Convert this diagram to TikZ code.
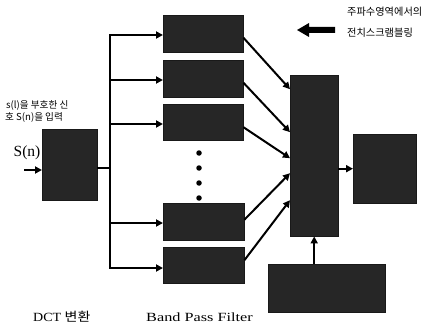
\documentclass[tikz,border=0pt]{standalone}
\usepackage{fontspec}
\setmainfont{Liberation Serif}
\newfontfamily\kr{Noto Sans CJK KR}
\usetikzlibrary{arrows.meta,calc}
\tikzset{
  blk/.style={draw=black!90,fill=black!85,inner sep=0pt,anchor=north west},
  conn/.style={line width=2pt,-{Triangle[length=7pt,width=7pt]}},
  plain/.style={line width=2pt},
  dotc/.style={circle,fill=black,inner sep=0pt,minimum size=5.5pt},
  krtxt/.style={font=\kr\fontsize{9.6}{11}\selectfont,inner sep=0pt},
}
\begin{document}
\begin{tikzpicture}[x=1pt,y=-1pt]
\useasboundingbox (0,0) rectangle (436,326);
% DCT box
\node[blk,minimum width=55pt,minimum height=71pt] (dct) at (42,129) {};
% band pass filters
\node[blk,minimum width=80pt,minimum height=37pt] (b1) at (163,15) {};
\node[blk,minimum width=80pt,minimum height=37pt] (b2) at (163,60) {};
\node[blk,minimum width=80pt,minimum height=36pt] (b3) at (163,104) {};
\node[blk,minimum width=81pt,minimum height=37pt] (b4) at (163,203) {};
\node[blk,minimum width=81pt,minimum height=36pt] (b5) at (163,247) {};
% combiner, output, bottom box
\node[blk,minimum width=48pt,minimum height=161pt] (comb) at (290,75) {};
\node[blk,minimum width=63pt,minimum height=69pt] (out) at (353,134) {};
\node[blk,minimum width=117pt,minimum height=48pt] (bot) at (268,264) {};
% dots
\node[dotc] (d1) at (199,153) {};
\node[dotc] (d2) at (199,168) {};
\node[dotc] (d3) at (199,183) {};
\node[dotc] (d4) at (199,198) {};
% input
\coordinate (in) at (24,170);
\draw[conn] (in) -- (in -| dct.west);
\node[font=\fontsize{15.5}{15}\selectfont,inner sep=0pt] (sn) at (27,153) {S(n)};
\node[krtxt,anchor=west] (t1) at (6,105) {s(l)을 부호한 신};
\node[krtxt,anchor=west] (t2) at (5,117) {호 S(n)을 입력};
% bus
\coordinate (bt) at (110,35);
\coordinate (bb) at (110,268);
\coordinate (bm) at (110,168);
\draw[plain] (dct.east |- bm) -- (bm);
\draw[plain,line cap=rect] (bt) -- (bb);
\draw[conn] (bt) -- (bt -| b1.west);
\draw[conn] (110,80) coordinate (j2) -- (j2 -| b2.west);
\draw[conn] (110,124) coordinate (j3) -- (j3 -| b3.west);
\draw[conn] (110,223) coordinate (j4) -- (j4 -| b4.west);
\draw[conn] (bb) -- (bb -| b5.west);
% filters to combiner
\draw[conn] ([yshift=-4pt]b1.east) -- ([yshift=66.5pt]comb.west);
\draw[conn] ([yshift=-4pt]b2.east) -- ([yshift=23.5pt]comb.west);
\draw[conn] ([yshift=-5pt]b3.east) -- ([yshift=-2.5pt]comb.west);
\draw[conn] ([yshift=2pt]b4.east) -- ([yshift=-17.5pt]comb.west);
\draw[conn] ([yshift=5pt]b5.east) -- ([yshift=-44.5pt]comb.west);
% combiner to output, bottom to combiner
\draw[conn] (comb.east |- out.west) -- (out.west);
\draw[conn] (bot.north -| comb.south) -- (comb.south);
% top-right legend arrow
\fill[black] (297,30) -- (309,23) -- (309,27) -- (335,27) -- (335,33) -- (309,33) -- (309,37) -- cycle;
\node[krtxt,font=\kr\fontsize{10.2}{11}\selectfont,anchor=west] (l1) at (347,12) {주파수영역에서의};
\node[krtxt,font=\kr\fontsize{10.2}{11}\selectfont,anchor=west] (l2) at (347,33) {전치스크램블링};
% bottom labels
\node[inner sep=0pt,anchor=west,font=\fontsize{12.5}{13}\selectfont] (lab1) at (33,317) {\scalebox{1.12}[1]{DCT {\kr 변환}}};
\node[inner sep=0pt,anchor=west,font=\fontsize{12.5}{13}\selectfont] (lab2) at (146,317) {\scalebox{1.3}[1]{Band Pass Filter}};
\end{tikzpicture}
\end{document}
